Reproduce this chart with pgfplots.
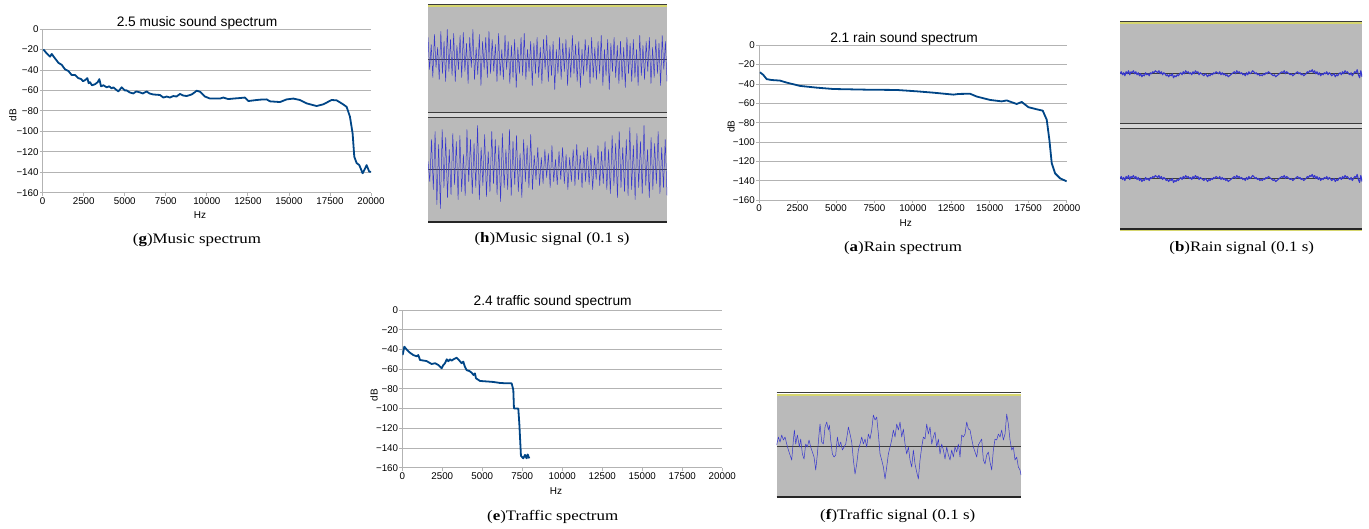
\documentclass[border=0pt]{standalone}
\usepackage{fontspec}
\setmainfont{Liberation Serif}[FakeStretch=1.17]
\newfontfamily\chartsans{Liberation Sans}
\usepackage{pgfplots}
\usepackage{pgfplotstable}
\pgfplotsset{compat=1.18}

\definecolor{specblue}{RGB}{0,69,134}
\definecolor{gridgray}{RGB}{179,179,179}
\definecolor{wavebg}{RGB}{186,186,186}
\definecolor{waveblue}{RGB}{55,55,205}
\definecolor{trackline}{RGB}{60,60,60}
\definecolor{trackyellow}{RGB}{214,214,110}
\definecolor{sepgray}{RGB}{214,214,214}

\newcommand{\titlefont}{\chartsans\fontsize{13.8}{15}\selectfont}
\newcommand{\labfont}{\chartsans\fontsize{10}{12}\selectfont}
\newcommand{\capfont}{\fontsize{14.5}{16}\selectfont}

% spectra (Hz, dB)
\pgfplotstableread{
hz db
40 -19.9
240 -23.8
447 -27
550 -24.4
750 -28.7
954 -33
1157 -35
1360 -39.4
1563 -41
1766 -45
1969 -45
2172 -48
2350 -49
2450 -51
2578 -50
2720 -48
2800 -53
2883 -52
3000 -55
3187 -54
3350 -52
3451 -49
3553 -56
3700 -55
3898 -57
4050 -56
4200 -58
4304 -57
4450 -59
4609 -61
4812 -57
5000 -60
5116 -60
5300 -62
5522 -63
5700 -61
5928 -62
6100 -63
6334 -61
6500 -63
6740 -64
7146 -64.5
7350 -67
7552 -66
7750 -67
7958 -65.5
8150 -66
8364 -63.5
8550 -65
8770 -65.5
9074 -64
9250 -62
9379 -60.3
9582 -61.3
9886 -66
10190 -68
10800 -68
11003 -67
11300 -68.5
11612 -68
12000 -67.5
12322 -67
12525 -70.4
13033 -69.4
13300 -69
13642 -68.8
13845 -70.7
14454 -71.4
14860 -68.8
15266 -68
15672 -69.4
16078 -72.7
16687 -75.3
17093 -73.6
17600 -69.4
17905 -69.7
18209 -72.7
18514 -76
18717 -85.7
18879 -102
18981 -124.8
19123 -131
19286 -133
19489 -141
19590 -138
19732 -133
19894 -139.5
20000 -139.5
}\musicspec

\pgfplotstableread{
hz db
65 -27.9
282 -30.7
498 -35
823 -35.9
1365 -36.5
1799 -38.6
2666 -42
3749 -43.8
4832 -45.2
7000 -45.9
8949 -46.2
10250 -47.6
11333 -49
12633 -51
13000 -50.3
13717 -50.1
14150 -53
15017 -56.5
15775 -58
16100 -57
16750 -60.7
17075 -58.6
17509 -64
18051 -66.2
18441 -67.6
18701 -77
18874 -98
19026 -122
19243 -132.4
19568 -137.6
20000 -140.7
}\rainspec

\pgfplotstableread{
hz db
21 -45.7
125 -37.2
270 -40
450 -43
687 -45.7
900 -47
1000 -45.7
1104 -50.7
1520 -51.8
1833 -54.8
2050 -54
2250 -55.8
2458 -59.2
2560 -56
2666 -54
2780 -50
2875 -52
2980 -50
3083 -51.4
3200 -50
3395 -48.4
3550 -51
3708 -54
3812 -52.4
3900 -57
4020 -61
4200 -62
4333 -63.6
4450 -66
4541 -64.3
4604 -69.3
4854 -72
5300 -72.5
5687 -73
6100 -74
6520 -74.4
6832 -74.4
6937 -81
6978 -99.8
7249 -100
7312 -115
7416 -148
7562 -150.5
7666 -147
7770 -150.5
7832 -146.5
7937 -150.5
}\trafficspec

% waveforms, screen pixels from the centre line
\pgfplotstableread[row sep=\\]{v\\%
22\\-10\\15\\-18\\25\\-8\\12\\-20\\28\\-14\\18\\-22\\30\\-12\\20\\-16\\26\\-22\\14\\-10\\%
24\\-18\\27\\-12\\16\\-24\\22\\-8\\30\\-20\\12\\-15\\25\\-26\\18\\-10\\22\\-18\\28\\-14\\%
20\\-12\\15\\-22\\26\\-16\\10\\-20\\24\\-10\\18\\-24\\14\\-18\\20\\-28\\12\\-14\\22\\-16\\%
26\\-20\\10\\-12\\18\\-26\\16\\-14\\22\\-18\\12\\-24\\20\\-10\\24\\-22\\14\\-16\\18\\-30\\%
10\\-14\\22\\-20\\16\\-12\\20\\-26\\12\\-18\\24\\-14\\15\\-22\\18\\-28\\10\\-16\\20\\-12\\%
14\\-24\\22\\-18\\12\\-20\\18\\-14\\24\\-26\\10\\-16\\20\\-30\\16\\-12\\22\\-18\\14\\-24\\%
18\\-20\\12\\-28\\22\\-14\\16\\-22\\20\\-18\\10\\-26\\24\\-16\\14\\-20\\18\\-12\\22\\-24\\%
12\\-18\\20\\-14\\16\\-26\\24\\-10\\18\\-22\\}\musicL

\pgfplotstableread[row sep=\\]{v\\%
8\\-12\\30\\-20\\38\\-35\\25\\-39\\40\\-18\\32\\-28\\20\\-25\\36\\-15\\28\\-30\\34\\-22\\%
15\\-26\\40\\-12\\30\\-24\\26\\-18\\44\\-30\\22\\-16\\35\\-27\\18\\-22\\38\\-14\\30\\-25\\%
24\\-32\\36\\-18\\20\\-20\\40\\-26\\28\\-15\\34\\-22\\16\\-28\\30\\-12\\24\\-18\\35\\-20\\%
14\\-10\\22\\-16\\12\\-14\\20\\-8\\16\\-18\\24\\-12\\10\\-15\\18\\-10\\22\\-14\\15\\-20\\%
12\\-12\\20\\-16\\25\\-10\\14\\-18\\18\\-12\\22\\-15\\16\\-20\\12\\-10\\24\\-16\\18\\-14\\%
28\\-20\\20\\-24\\34\\-16\\26\\-28\\38\\-18\\22\\-22\\30\\-26\\42\\-20\\24\\-30\\36\\-18\\%
28\\-24\\44\\-16\\20\\-28\\32\\-20\\26\\-14\\38\\-24\\22\\-18\\30\\-26\\}\musicR

\pgfplotstableread[row sep=\\]{v\\%
0\\2\\-1\\1\\-2\\2\\0\\3\\-1\\2\\1\\3\\0\\2\\-1\\1\\-2\\0\\-3\\-1\\%
-2\\1\\-1\\0\\-2\\1\\0\\2\\1\\3\\2\\1\\3\\0\\2\\-1\\1\\0\\-2\\-1\\%
-3\\-1\\-2\\0\\-4\\-2\\-3\\-1\\-2\\0\\1\\-1\\2\\0\\3\\1\\2\\0\\1\\-1\\%
2\\0\\3\\1\\2\\-1\\1\\0\\-1\\-2\\0\\-1\\-3\\-1\\-2\\0\\-1\\1\\0\\2\\%
1\\0\\2\\-1\\1\\-1\\0\\-2\\-1\\-3\\-2\\-1\\0\\1\\2\\0\\3\\1\\2\\0\\%
1\\-1\\0\\-2\\1\\-1\\2\\0\\1\\3\\2\\0\\1\\-1\\0\\-2\\-1\\-2\\0\\-1\\%
1\\0\\2\\1\\0\\-1\\-2\\-1\\-3\\-2\\-1\\0\\1\\2\\1\\3\\0\\2\\1\\0\\%
-1\\0\\-2\\-1\\0\\1\\2\\0\\1\\-1\\0\\-2\\-1\\0\\2\\1\\3\\2\\4\\1\\%
3\\0\\2\\-1\\1\\-2\\0\\-1\\1\\0\\2\\-1\\1\\0\\-2\\-1\\0\\-3\\-1\\-2\\%
0\\1\\-1\\2\\0\\3\\1\\2\\0\\-1\\1\\-2\\0\\2\\1\\4\\-1\\-4\\3\\-3\\}\rainwave

\pgfplotstableread{
t v
50 1
55 9
60 4
65 11
70 6
75 9
80 2
85 -4
90 -9
95 -14
100 6
103 16
107 2
112 11
118 -1
122 7
127 -8
132 -13
137 2
142 -1
147 6
152 -1
157 -6
162 -11
167 -24
172 -8
177 12
180 22
185 4
190 2
195 19
200 24
205 16
208 21
212 6
217 -8
222 -11
227 -9
232 9
237 -1
242 4
247 -4
252 -1
257 2
262 12
265 19
270 12
275 4
280 -14
285 -28
290 -18
295 -4
300 2
305 9
310 2
315 7
320 -1
325 12
330 7
335 16
340 31
345 26
350 29
355 12
360 -8
365 -14
370 -21
375 -33
380 -21
385 -8
390 -1
395 6
400 16
405 9
410 22
415 16
420 24
425 9
430 17
435 2
440 -8
445 -1
450 -14
455 -21
460 -4
465 -18
470 -26
475 -33
480 -14
485 -1
490 9
495 7
500 22
505 12
510 19
515 2
520 9
525 14
530 -1
535 7
540 -8
545 2
550 -4
555 -13
560 -1
565 -9
570 -14
575 -4
580 -11
585 -1
590 -6
595 2
600 -11
605 11
610 9
615 12
620 24
625 17
630 16
635 7
640 -1
645 -6
650 -11
655 1
660 4
665 7
670 -14
675 -18
680 -9
685 -6
690 -16
695 -24
700 -4
705 7
710 6
715 12
720 9
725 16
730 6
735 12
740 32
745 22
750 6
755 -4
760 -1
765 -14
770 -11
775 -21
780 -24
783 -29
}\trafficwave

\pgfplotsset{
  spec/.style={
    scale only axis,
    xmin=0, xmax=20000, ymin=-160, ymax=0,
    scaled x ticks=false, scaled y ticks=false,
    xtick={0,2500,...,20000},
    xticklabels={0,2500,5000,7500,10000,12500,15000,17500,20000},
    ytick={-160,-140,...,0},
    yticklabels={−160,−140,−120,−100,−80,−60,−40,−20,0},
    axis lines*=left,
    axis line style={gridgray, line width=0.8bp},
    ymajorgrids, grid style={gridgray, line width=0.8bp},
    tick style={gridgray, line width=0.8bp},
    tick align=outside, major tick length=3bp,
    ticklabel style={font=\chartsans\fontsize{9.8}{11}\selectfont, text=black},
    xticklabel style={inner sep=1.5bp},
    yticklabel style={inner sep=1bp},
  },
  specline/.style={specblue, line width=1.8bp, line join=round},
  wave/.style={scale only axis, hide axis, enlargelimits=false},
  waveline/.style={waveblue, line width=0.5bp, line join=round},
}

\begin{document}
\begin{tikzpicture}
\begin{scope}[x=1bp, y=-1bp]
\useasboundingbox (0,0) rectangle (1369,529);
% frames of the waveform panels
\fill[wavebg] (428,7) rectangle (667,112);
\fill[sepgray] (428,112) rectangle (667,117);
\fill[wavebg] (428,117) rectangle (667,222);
\fill[trackyellow] (428,5) rectangle (667,7);
\draw[trackline, line width=1bp] (428,4.5) -- (667,4.5);
\draw[trackline, line width=0.8bp] (428,112) -- (667,112) (428,117) -- (667,117);
\draw[black!85, line width=1.5bp] (428,222) -- (667,222);
\draw[trackline, line width=0.8bp] (428,59.5) -- (667,59.5) (428,169.5) -- (667,169.5);

\fill[wavebg] (1120,24) rectangle (1362,123.5);
\fill[sepgray] (1120,123.5) rectangle (1362,128.5);
\fill[wavebg] (1120,128.5) rectangle (1362,228.5);
\fill[trackyellow] (1120,22) rectangle (1362,24);
\draw[trackline, line width=1bp] (1120,21.5) -- (1362,21.5);
\draw[trackline, line width=0.8bp] (1120,123.5) -- (1362,123.5) (1120,128.5) -- (1362,128.5);
\fill[trackyellow] (1120,229.5) rectangle (1362,231);
\draw[black!85, line width=1.5bp] (1120,228.8) -- (1362,228.8);
\draw[trackline, line width=0.8bp] (1120,73.75) -- (1362,73.75) (1120,178.5) -- (1362,178.5);

\fill[wavebg] (776.7,395.5) rectangle (1021,496.5);
\fill[trackyellow] (776.7,393.5) rectangle (1021,395.5);
\draw[trackline, line width=1bp] (776.7,392.5) -- (1021,392.5);
\draw[black!85, line width=1.5bp] (776.7,497) -- (1021,497);
\draw[trackline, line width=0.8bp] (776.7,446) -- (1021,446);

% titles, axis labels, captions
\node[font=\titlefont] at (197,22.7) {2.5 music sound spectrum};
\node[font=\labfont, rotate=90] at (12.7,115) {dB};
\node[font=\labfont] at (200,215) {Hz};
\node[font=\capfont] at (197,240) {(\textbf{g})Music spectrum};
\node[font=\capfont] at (552,239) {(\textbf{h})Music signal (0.1 s)};
\node[font=\titlefont] at (904,39) {2.1 rain sound spectrum};
\node[font=\labfont, rotate=90] at (731,126.7) {dB};
\node[font=\labfont] at (905.7,223) {Hz};
\node[font=\capfont] at (903,247.7) {(\textbf{a})Rain spectrum};
\node[font=\capfont] at (1241.7,248.3) {(\textbf{b})Rain signal (0.1 s)};
\node[font=\titlefont] at (552.7,302.3) {2.4 traffic sound spectrum};
\node[font=\labfont, rotate=90] at (374,395) {dB};
\node[font=\labfont] at (556,490.7) {Hz};
\node[font=\capfont] at (552.7,516.7) {(\textbf{e})Traffic spectrum};
\node[font=\capfont] at (897.7,516) {(\textbf{f})Traffic signal (0.1 s)};
\end{scope}

% ---- (g) music spectrum
\begin{axis}[spec, at={(42.7bp,-192.7bp)}, anchor=south west, width=328.3bp, height=163.7bp]
\addplot[specline] table[x=hz, y=db] {\musicspec};
\end{axis}

% ---- (h) music signal
\begin{axis}[wave, at={(428bp,-112bp)}, anchor=south west, width=239bp, height=105bp, ymin=-52.5, ymax=52.5]
\addplot[waveline] table[x expr=\coordindex, y=v] {\musicL};
\end{axis}
\begin{axis}[wave, at={(428bp,-222bp)}, anchor=south west, width=239bp, height=105bp, ymin=-52.5, ymax=52.5]
\addplot[waveline] table[x expr=\coordindex, y=v] {\musicR};
\end{axis}

% ---- (a) rain spectrum
\begin{axis}[spec, at={(759bp,-200bp)}, anchor=south west, width=307.7bp, height=154.7bp]
\addplot[specline] table[x=hz, y=db] {\rainspec};
\end{axis}

% ---- (b) rain signal
\begin{axis}[wave, at={(1120bp,-123.5bp)}, anchor=south west, width=242bp, height=99.5bp, ymin=-49.75, ymax=49.75]
\addplot[waveline, line width=1.1bp] table[x expr=\coordindex, y=v] {\rainwave};
\end{axis}
\begin{axis}[wave, at={(1120bp,-228.5bp)}, anchor=south west, width=242bp, height=100bp, ymin=-50, ymax=50]
\addplot[waveline, line width=1.1bp] table[x expr=\coordindex, y=v] {\rainwave};
\end{axis}

% ---- (e) traffic spectrum
\begin{axis}[spec, at={(402.3bp,-467.7bp)}, anchor=south west, width=320bp, height=157.7bp]
\addplot[specline] table[x=hz, y=db] {\trafficspec};
\end{axis}

% ---- (f) traffic signal
\begin{axis}[wave, at={(776.7bp,-496.5bp)}, anchor=south west, width=244.3bp, height=101bp, ymin=-50.5, ymax=50.5]
\addplot[waveline] table[x=t, y=v] {\trafficwave};
\end{axis}
\end{tikzpicture}
\end{document}
